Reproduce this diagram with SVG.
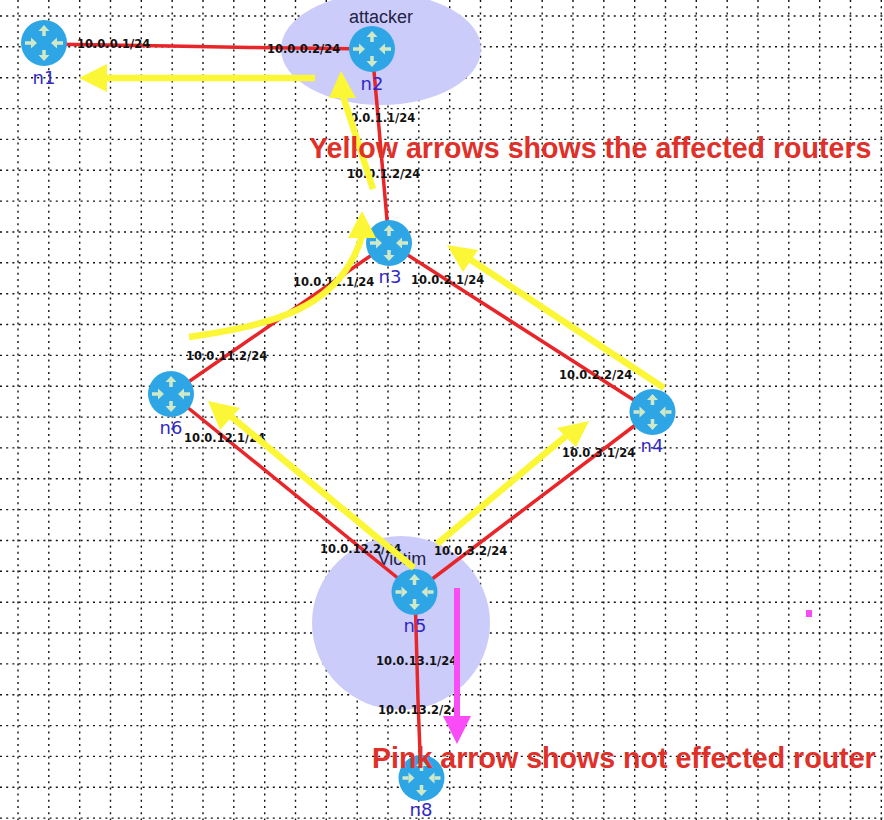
<svg xmlns="http://www.w3.org/2000/svg" width="884" height="820" viewBox="0 0 884 820">
<defs>
<style>
text{font-family:"DejaVu Sans",sans-serif}
.grid{stroke:#111;stroke-width:1.4;stroke-dasharray:2 4.200;fill:none}
.link{stroke:#e8262a;stroke-width:3.500;fill:none}
.y{stroke:#fbf636;stroke-width:6.500;fill:none}
.yh{fill:#fbf636}
.p{stroke:#f94bf6;stroke-width:6;fill:none}
.ph{fill:#f94bf6}
.ip{font-size:11.500px;font-weight:bold;fill:#111}
.nm{font-size:18px;fill:#3328c4;text-anchor:middle}
.big{font-family:"Liberation Sans",sans-serif;font-weight:bold;font-size:28.600px;fill:#e0302a}
.lan{font-family:"Liberation Sans",sans-serif;font-size:18px;fill:#222244;text-anchor:middle}
.body{fill:#2ea6e6}
.ar{fill:none;stroke:#cfe8c8;stroke-width:3.500}
.hd{fill:#cfe8c8}
</style>
<g id="router">
<circle class="body" r="23"/>
<path class="ar" d="M0-7V-13M0 7V13M-19 0H-13M19 0H13"/>
<path class="hd" d="M0-18 5.500-12H-5.500ZM0 18-5.500 12H5.500ZM-7 0-13-5.500V5.500ZM7 0 13-5.500V5.500Z"/>
</g>
</defs>
<rect width="884" height="820" fill="#fff"/>
<g id="grid">
<path class="grid" d="M18 0V820M48.800 0V820M79.700 0V820M110.500 0V820M141.300 0V820M172.200 0V820M203 0V820M233.800 0V820M264.700 0V820M295.500 0V820M326.300 0V820M357.200 0V820M388 0V820M418.800 0V820M449.700 0V820M480.500 0V820M511.300 0V820M542.200 0V820M573 0V820M603.800 0V820M634.700 0V820M665.500 0V820M696.300 0V820M727.200 0V820M758 0V820M788.800 0V820M819.700 0V820M850.500 0V820M881.300 0V820"/>
<path class="grid" d="M0 16H884M0 46.800H884M0 77.700H884M0 108.600H884M0 139.400H884M0 170.300H884M0 201.100H884M0 232H884M0 262.800H884M0 293.700H884M0 324.500H884M0 355.400H884M0 386.200H884M0 417.100H884M0 447.900H884M0 478.800H884M0 509.600H884M0 540.500H884M0 571.300H884M0 602.200H884M0 633H884M0 663.900H884M0 694.700H884M0 725.600H884M0 756.400H884M0 787.300H884M0 818.100H884"/>
</g>
<g id="lans">
<ellipse cx="381" cy="49" rx="100" ry="56" fill="#ccccfb"/>
<ellipse cx="401" cy="623" rx="89" ry="87" fill="#ccccfb"/>
<text class="lan" x="381" y="23">attacker</text>
<text class="lan" x="402" y="565">Victim</text>
</g>
<g id="connectors">
<path class="link" d="M44 44 170 46 250 47.500 372 49"/>
<path class="link" d="M372 49 377 105 389 243"/>
<path class="link" d="M389 243 171 394"/>
<path class="link" d="M389 243 652.500 412"/>
<path class="link" d="M171 394 415 592"/>
<path class="link" d="M652.500 412 415 592"/>
<path class="link" d="M415 592 418 700 421 778"/>
</g>
<g id="n1"><use href="#router" x="44" y="43"/><text class="nm" x="44" y="84">n1</text></g>
<g id="n2"><use href="#router" x="372" y="49"/><text class="nm" x="372" y="90">n2</text></g>
<g id="n3"><use href="#router" x="389" y="243"/><text class="nm" x="390" y="283">n3</text></g>
<g id="n4"><use href="#router" x="652.500" y="412"/><text class="nm" x="652" y="452">n4</text></g>
<g id="n5"><use href="#router" x="414.500" y="592"/><text class="nm" x="415" y="632">n5</text></g>
<g id="n6"><use href="#router" x="171" y="394"/><text class="nm" x="171" y="434">n6</text></g>
<g id="n8"><use href="#router" x="421.500" y="778"/><text class="nm" x="421" y="815.500">n8</text></g>
<g id="labels">
<text class="ip" x="77" y="48">10.0.0.1/24</text>
<text class="ip" x="267" y="53">10.0.0.2/24</text>
<text class="ip" x="350" y="122">0.0.1.1/24</text>
<text class="ip" x="347" y="178">10.0.1.2/24</text>
<text class="ip" x="293" y="286">10.0.11.1/24</text>
<text class="ip" x="411" y="284">10.0.2.1/24</text>
<text class="ip" x="186" y="360">10.0.11.2/24</text>
<text class="ip" x="559" y="379">10.0.2.2/24</text>
<text class="ip" x="184" y="442">10.0.12.1/24</text>
<text class="ip" x="562" y="457">10.0.3.1/24</text>
<text class="ip" x="320" y="553">10.0.12.2/24</text>
<text class="ip" x="434" y="555">10.0.3.2/24</text>
<text class="ip" x="376" y="665">10.0.13.1/24</text>
<text class="ip" x="378" y="714">10.0.13.2/24</text>
</g>
<g id="annotations">
<path class="y" d="M315 78H100"/><path class="yh" d="M79 78 107 64V92Z"/>
<path class="y" d="M373 189 343 96"/><path class="yh" d="M341 71 356 98 329 98Z"/>
<path class="y" d="M189 337C270 325 340 310 362 236"/><path class="yh" d="M362 211 376 238 348 238Z"/>
<path class="y" d="M664 388 468 258"/><path class="yh" d="M447 245 478 250 463 272Z"/>
<path class="y" d="M437 544 566 436"/><path class="yh" d="M589 421 576 447 557 428Z"/>
<path class="y" d="M414 568 228 414"/><path class="yh" d="M208 401 240 408 220 430Z"/>
<path class="p" d="M457 588V720"/><path class="ph" d="M457 744 443 716H471Z"/>
<rect class="ph" x="806" y="610" width="6" height="7"/>
<text class="big" x="309" y="158">Yellow arrows shows the affected routers</text>
<text class="big" x="372" y="768">Pink arrow shows not effected router</text>
</g>
</svg>
